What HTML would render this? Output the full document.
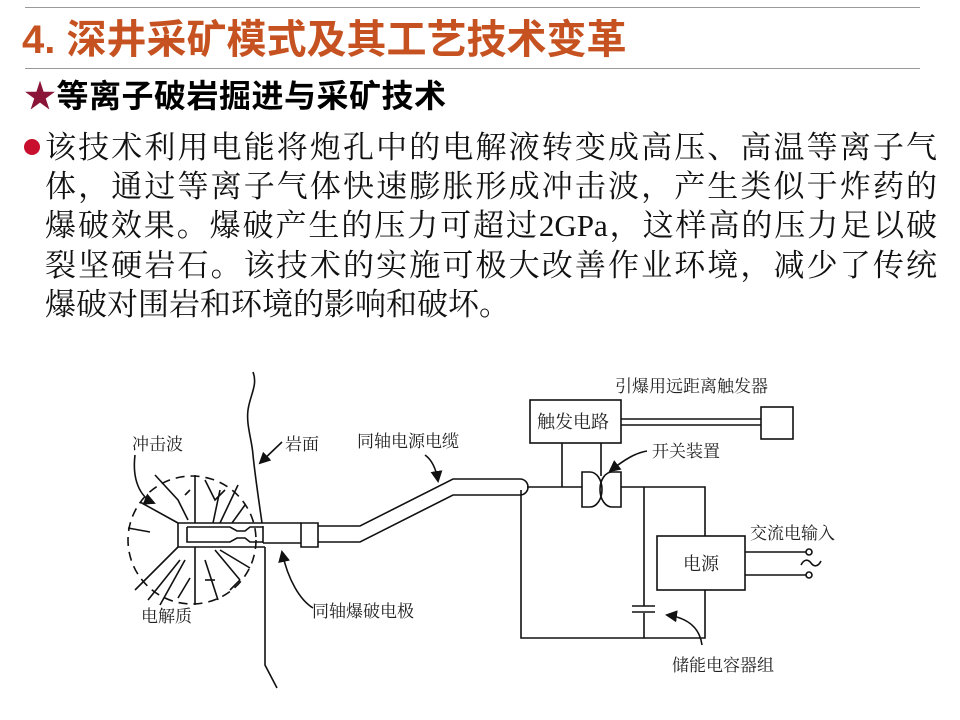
<!DOCTYPE html>
<html><head><meta charset="utf-8">
<style>
body{margin:0;width:960px;height:720px;background:#fff;position:relative;overflow:hidden;font-family:"Liberation Serif","Noto Serif CJK SC",serif;}
.t{position:absolute;white-space:nowrap;}
.ln{position:absolute;left:45px;width:892px;font-size:31px;line-height:40px;text-align:justify;text-align-last:justify;color:#111;font-family:"Liberation Serif","Noto Serif CJK SC",serif;}
svg text{font-family:"Liberation Serif","Noto Serif CJK SC",serif;fill:#222;}
</style></head><body>
<div style="position:absolute;left:25px;top:7px;width:895px;height:1px;background:#999"></div>
<div class="t" style="left:22px;top:15px;font-size:40px;font-weight:bold;color:#c55220;font-family:'Liberation Sans','Noto Sans CJK SC',sans-serif;line-height:50px;">4. 深井采矿模式及其工艺技术变革</div>
<div style="position:absolute;left:25px;top:68px;width:895px;height:1px;background:#999"></div>
<div class="t" style="left:24px;top:75px;font-size:32px;font-weight:bold;color:#000;font-family:'Liberation Sans','Noto Sans CJK SC',sans-serif;line-height:42px;letter-spacing:0.5px"><span style="color:#8a1538">★</span>等离子破岩掘进与采矿技术</div>
<div style="position:absolute;left:24px;top:139px;width:16px;height:16px;border-radius:50%;background:#c8102e"></div>
<div class="ln" style="top:128px">该技术利用电能将炮孔中的电解液转变成高压、高温等离子气</div>
<div class="ln" style="top:167px">体，通过等离子气体快速膨胀形成冲击波，产生类似于炸药的</div>
<div class="ln" style="top:206px">爆破效果。爆破产生的压力可超过2GPa，这样高的压力足以破</div>
<div class="ln" style="top:246px">裂坚硬岩石。该技术的实施可极大改善作业环境，减少了传统</div>
<div class="ln" style="top:285px;width:auto;text-align-last:auto;">爆破对围岩和环境的影响和破坏。</div>

<svg width="960" height="720" style="position:absolute;left:0;top:0" viewBox="0 0 960 720">
<defs><marker id="ah" markerWidth="12" markerHeight="12" refX="10" refY="6" orient="auto" markerUnits="userSpaceOnUse"><path d="M0,0 L12,6 L0,12 z" fill="#111"/></marker></defs>
<g stroke="#111" stroke-width="1.6" fill="none">
<path d="M253,372 C258,385 250,395 248,410 C246,425 252,440 253,455 C255,475 258,495 262,523"/>
<path d="M265,547 L265,665 L277,688"/>
<circle cx="192" cy="540" r="64" stroke-dasharray="9,6"/>
<path d="M155,475 L178,500 L188,520"/>
<path d="M140,502 L178,523"/>
<path d="M128,528 L150,532"/>
<path d="M135,590 L178,547"/>
<path d="M148,600 L180,560"/>
<path d="M160,605 L185,560"/>
<path d="M178,598 L190,578"/>
<path d="M195,475 L195,523"/>
<path d="M195,547 L195,605"/>
<path d="M205,480 L215,500 L225,490"/>
<path d="M220,490 L213,523"/>
<path d="M238,485 L220,523"/>
<path d="M245,505 L232,523"/>
<path d="M205,560 L218,600"/>
<path d="M215,550 L240,580"/>
<path d="M220,550 L250,568"/>
<path d="M205,580 L215,580"/>
<path d="M230,590 L240,580"/>
<path d="M185,495 L190,490"/>
<path d="M178,523 L301,523 M178,523 L178,547 L265,547 M263,543 L301,543"/>
<path d="M187,527 L230,527 L237,531 L245,531 L250,527 L263,527 M187,527 L187,542 L230,542 L237,538 L245,538 L250,542 L263,542"/>
<path d="M263,526 L263,543"/>
<path d="M301,523 L318,523 L318,547 L301,547 Z"/>
<path d="M318,526 L360,526 L453,479 L520,479 A8,8 0 0 1 520,495 L453,495 L360,542 L318,542"/>
<rect x="530" y="400" width="91" height="43"/>
<path d="M621,419 L761,419 M621,425 L761,425"/>
<rect x="761" y="407" width="32" height="32"/>
<path d="M562,443 L562,487 M601,443 L601,476"/>
<path d="M527,487 L582,487"/>
<path d="M582,472 L590,472 A12,17.5 0 0 1 590,507 L582,507 Z"/>
<path d="M621,472 L612,472 A12,17.5 0 0 0 612,507 L621,507 Z"/>
<path d="M621,487 L705,487 L705,536"/>
<path d="M521,490 L521,638 L705,638 L705,590"/>
<path d="M644,487 L644,606 M644,613 L644,638"/>
<path d="M632,606 L655,606 M632,612 L655,612"/>
<rect x="657" y="536" width="88" height="54"/>
<path d="M745,552 L806,552 M745,575 L806,575"/>
<circle cx="809" cy="552" r="3"/>
<circle cx="809" cy="575" r="3"/>
<path d="M801,565 C804,559 808,559 811,563 C814,567 818,567 821,561"/>
<path d="M135,455 C132,480 140,497 154,503" marker-end="url(#ah)"/>
<path d="M282,442 L260,463" marker-end="url(#ah)"/>
<path d="M425,455 C432,460 436,468 438,481" marker-end="url(#ah)"/>
<path d="M313,608 C300,600 288,580 282,552" marker-end="url(#ah)"/>
<path d="M647,451 C635,453 624,460 610,471" marker-end="url(#ah)"/>
<path d="M702,645 C700,630 690,618 667,615" marker-end="url(#ah)"/>
</g>
<g font-size="17">
<text x="132" y="450">冲击波</text>
<text x="285" y="450">岩面</text>
<text x="357" y="447">同轴电源电缆</text>
<text x="141" y="622">电解质</text>
<text x="312" y="617">同轴爆破电极</text>
<text x="615" y="392">引爆用远距离触发器</text>
<text x="537" y="428" font-size="18">触发电路</text>
<text x="652" y="457">开关装置</text>
<text x="750" y="539">交流电输入</text>
<text x="683" y="570" font-size="18">电源</text>
<text x="672" y="671">储能电容器组</text>
</g>
</svg>
</body></html>
